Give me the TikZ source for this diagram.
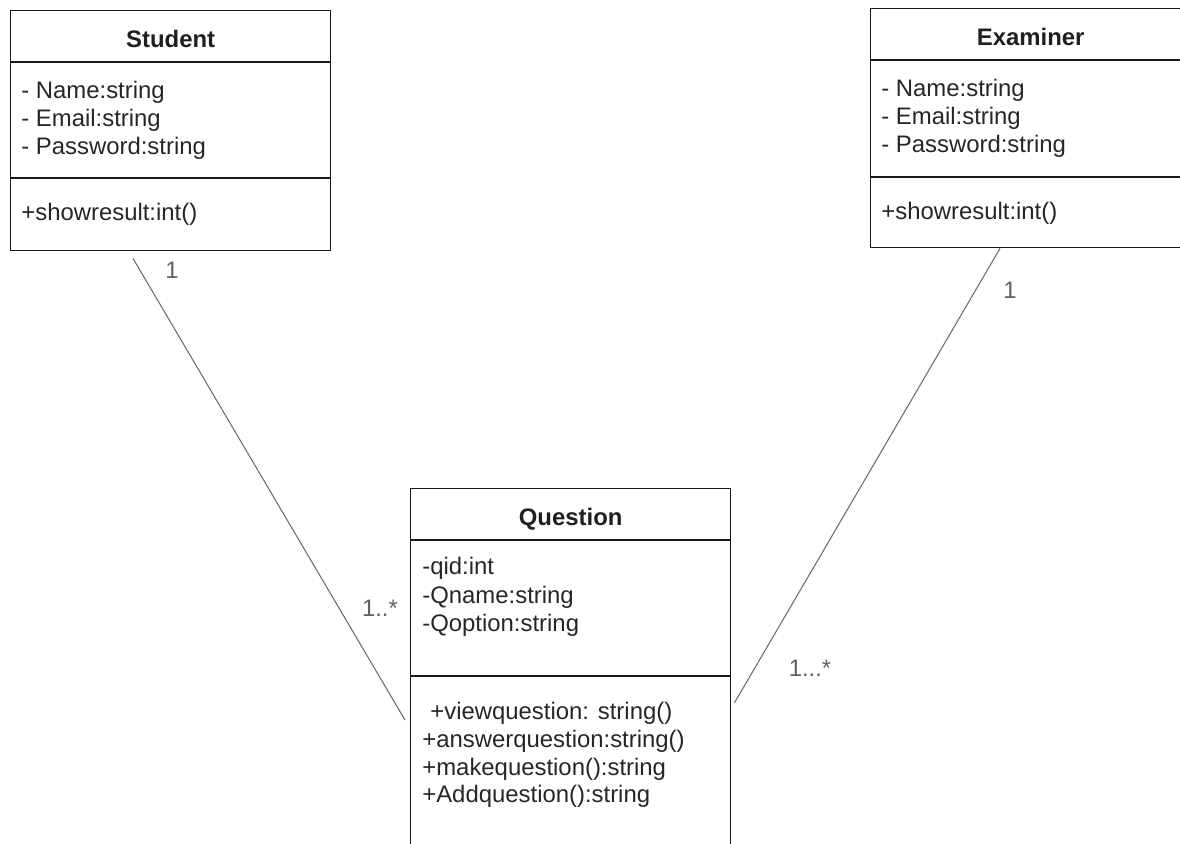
\documentclass[tikz,border=0pt]{standalone}
\usepackage{fontspec}
\setmainfont{Liberation Sans}
\usepackage{tikz}
\usetikzlibrary{positioning}
\usetikzlibrary{calc}
\definecolor{linegray}{gray}{0.42}
\tikzstyle{classbox}=[rectangle,draw=black!90,line width=0.8pt,minimum width=6.4cm,anchor=north west,inner sep=0pt]
\tikzstyle{divider}=[draw=black!90,line width=0.8pt]
\tikzstyle{title}=[font=\fontsize{13.6}{15.9}\selectfont\bfseries,text=black!88,anchor=base,inner sep=0pt]
\tikzstyle{member}=[font=\fontsize{13.6}{15.9}\selectfont,text=black!85,anchor=base west,inner sep=0pt]
\tikzstyle{assoc}=[draw=linegray,line width=0.6pt]
\tikzstyle{mult}=[font=\fontsize{13.6}{15.9}\selectfont,text=black!62,inner sep=0pt]

\begin{document}
\begin{tikzpicture}[x=0.02cm,y=-0.02cm]

  \useasboundingbox (0,0) rectangle (1180,843);
  \clip (0,0) rectangle (1180,843);

   \foreach \x/\y/\h/\name in {10/10/240/student, 870/8/239/examiner, 410/488/420/question}
          \node[classbox,minimum height=\h*0.02cm] (\name) at (\x,\y) {};

  % titles and compartments
   \foreach \name/\label/\ha/\hb in {student/Student/52/168, examiner/Examiner/52/169, question/Question/52/188} {
          \node[title] (\name title) at ($(\name.north)+(0,37)$) {\label};
          \path[divider] ($(\name.north west)+(0,\ha)$) -- ($(\name.north east)+(0,\ha)$);
          \path[divider] ($(\name.north west)+(0,\hb)$) -- ($(\name.north east)+(0,\hb)$);
   }

   \foreach \x/\y/\name/\label in {21/98/sname/{- Name:string}, 21/126/semail/{- Email:string}, 21/154/spass/{- Password:string}, 21/220/sshow/{+showresult:int()}}
          \node[member] (\name) at (\x,\y) {\label};

   \foreach \x/\y/\name/\label in {881/96/ename/{- Name:string}, 881/124/eemail/{- Email:string}, 881/152/epass/{- Password:string}, 881/219/eshow/{+showresult:int()}}
          \node[member] (\name) at (\x,\y) {\label};

   \foreach \x/\y/\name/\label in {422/574/qid/{-qid:int}, 422/603/qname/{-Qname:string}, 422/631/qoption/{-Qoption:string}}
          \node[member] (\name) at (\x,\y) {\label};

   \foreach \x/\y/\name/\label in {430/719/qview/{+viewquestion: string()}, 422/747/qanswer/{+answerquestion:string()}, 422/775/qmake/{+makequestion():string}, 422/802/qadd/{+Addquestion():string}}
          \node[member] (\name) at (\x,\y) {\label};

  % association ends
  \coordinate (studentend) at ($(student.south west)+(123,7)$);
  \coordinate (qleftend) at ($(question.north west)+(-5,232)$);
  \coordinate (examinerend) at ($(examiner.south west)+(130,0)$);
  \coordinate (qrightend) at ($(question.north east)+(3,215)$);

  \foreach \source/ \dest in {studentend/qleftend, examinerend/qrightend}
         \path[assoc] (\source) -- (\dest);

   \foreach \x/\y/\name/\label in {172/270/smult/1, 380/608/qlmult/{1..*}, 1010/290/emult/1, 810/668/qrmult/{1...*}}
          \node[mult] (\name) at (\x,\y) {\label};

   \end{tikzpicture}
\end{document}
